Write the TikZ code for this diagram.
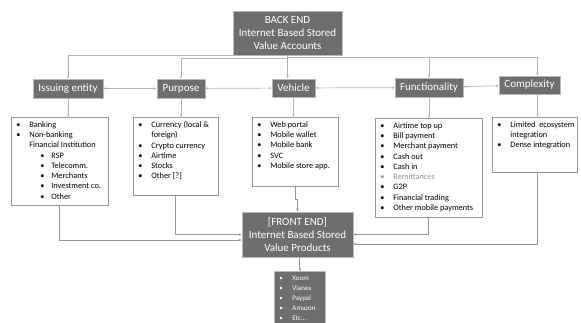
\documentclass[tikz,border=0pt]{standalone}
\usepackage{fontspec}
\setmainfont{Carlito}
\usetikzlibrary{arrows.meta}
\definecolor{boxgray}{RGB}{110,110,110}
\definecolor{edgegray}{RGB}{185,185,185}
\definecolor{linegray}{RGB}{150,150,150}
\definecolor{toplinegray}{RGB}{180,180,180}
\definecolor{remgray}{RGB}{150,150,150}
\newcommand{\itm}[1]{\hspace*{5pt}\makebox[13pt][l]{\textbullet}#1\par}
\newcommand{\subitm}[1]{\hspace*{29pt}\makebox[11pt][l]{\textbullet}#1\par}
\newcommand{\more}[1]{\hspace*{18pt}#1\par}
\newcommand{\listtext}[3]{\begin{minipage}[t][#2pt][t]{#1pt}\vspace*{4pt}#3\end{minipage}}

\begin{document}
\begin{tikzpicture}[x=1pt,y=-1pt,
  darkbox/.style={draw=edgegray,line width=0.9pt,fill=boxgray,text=white,inner sep=0pt},
  head/.style={darkbox,font=\fontsize{11}{13}\selectfont},
  mainbox/.style={darkbox,align=center,font=\fontsize{11}{13}\selectfont},
  listbox/.style={draw=linegray,line width=0.8pt,fill=white,inner sep=0pt,anchor=north west,font=\fontsize{8.3}{10.3}\selectfont},
  topline/.style={draw=toplinegray,line width=0.7pt,-{Stealth[length=3pt,width=2.6pt]}},
  twoway/.style={draw=toplinegray,line width=0.7pt,{Stealth[length=3pt,width=2.6pt]}-{Stealth[length=3pt,width=2.6pt]}},
  lowline/.style={draw=linegray,line width=1pt,-{Stealth[length=3pt,width=2.6pt]}}]
  \useasboundingbox (0,0) rectangle (581,322);
  \node[mainbox,minimum width=109pt,minimum height=44pt] (backend) at (287.5,33) {BACK END\\Internet Based Stored\\Value Accounts};
  \node[head,minimum width=70pt,minimum height=19pt] (issuing) at (68,88.5) {Issuing entity};
  \node[head,minimum width=48pt,minimum height=19pt] (purpose) at (181,88.5) {Purpose};
  \node[head,minimum width=43pt,minimum height=18pt] (vehicle) at (293.5,88) {Vehicle};
  \node[head,minimum width=68pt,minimum height=19pt] (function) at (429,87.5) {Functionality};
  \node[head,minimum width=61pt,minimum height=18pt] (complex) at (529.5,85) {Complexity};
  \node[listbox] (ilist) at (11,117) {\listtext{97}{88}{\itm{Banking}\itm{Non-banking}\more{Financial Institution}\subitm{RSP}\subitm{Telecomm.}\subitm{Merchants}\subitm{Investment co.}\subitm{Other}}};
  \node[listbox] (plist) at (133,117) {\listtext{85}{78}{\itm{Currency (local \&}\more{foreign)}\itm{Crypto currency}\itm{Airtime}\itm{Stocks}\itm{Other [?]}}};
  \node[listbox] (vlist) at (252,117) {\listtext{86}{69}{\itm{Web portal}\itm{Mobile wallet}\itm{Mobile bank}\itm{SVC}\itm{Mobile store app.}}};
  \node[listbox] (flist) at (375,118) {\listtext{107}{99}{\itm{Airtime top up}\itm{Bill payment}\itm{Merchant payment}\itm{Cash out}\itm{Cash in}{\color{remgray}\itm{Remittances}}\itm{G2P}\itm{Financial trading}\itm{Other mobile payments}}};
  \node[listbox] (clist) at (492,117) {\listtext{85}{55}{\itm{Limited\ \ ecosystem}\more{integration}\itm{Dense integration}}};
  \node[mainbox,minimum width=111pt,minimum height=45pt] (fend) at (297.5,234.5) {[FRONT END]\\Internet Based Stored\\Value Products};
  \node[darkbox,anchor=north west,font=\fontsize{7}{10}\selectfont] (plats) at (274,271) {\listtext{51}{60}{\vspace*{0.5pt}\itm{Xoom}\itm{Vianex}\itm{Paypal}\itm{Amazon}\itm{Etc...}}};
  \draw[topline] (backend.south) -| (issuing.north);
  \draw[topline] ([yshift=-3pt]backend.south) -| (purpose.north);
  \draw[topline] (backend.south) -- (backend.south |- vehicle.north);
  \draw[topline] ([yshift=-1.5pt]backend.south) -| (function.north);
  \draw[topline] ([yshift=-1.5pt]backend.south) -| ([xshift=8pt]complex.north);
  \draw[twoway] (issuing) -- (purpose);
  \draw[twoway] (purpose) -- (vehicle);
  \draw[twoway] (vehicle) -- (function);
  \draw[twoway] (function) -- (complex);
  \draw[topline] (issuing.south) -- (issuing.south |- ilist.north);
  \draw[topline] (purpose.south) -- (purpose.south |- plist.north);
  \draw[topline] (vehicle.south) -- (vehicle.south |- vlist.north);
  \draw[topline] (function.south) -- (function.south |- flist.north);
  \draw[topline] ([xshift=8pt]complex.south) -- ([xshift=8pt]complex.south |- clist.north);
  \draw[lowline] (ilist.south) |- ([yshift=-5.5pt]fend.west);
  \draw[lowline] (plist.south) |- (fend.west);
  \draw[lowline] (vlist.south) -- ++(0,13) -| (fend.north);
  \draw[lowline] (flist.south) |- (fend.east);
  \draw[lowline] ([xshift=2.5pt]clist.south) |- ([yshift=-9.5pt]fend.east);
  \draw[lowline] (fend.south -| plats.north) -- (plats.north);
\end{tikzpicture}
\end{document}
